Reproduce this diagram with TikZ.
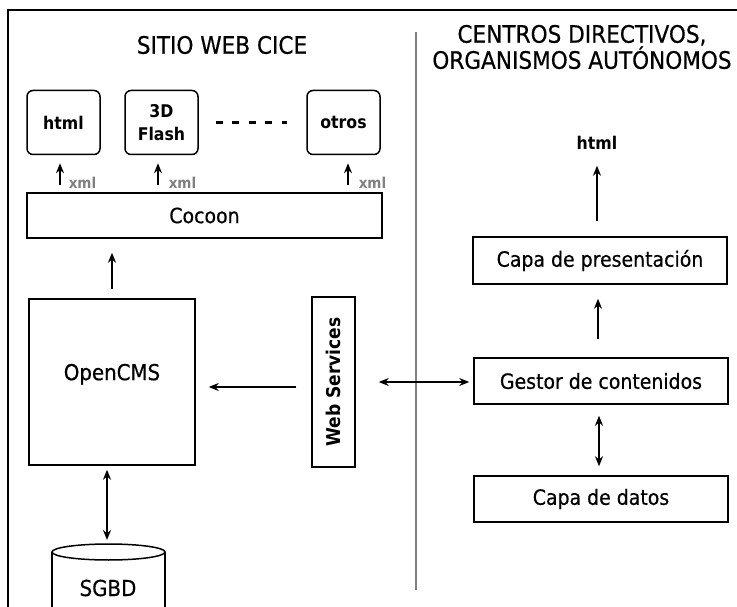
\documentclass[tikz,border=0pt]{standalone}
\usepackage{fontspec}
\setmainfont{DejaVu Sans}[FakeStretch=0.9, UprightFeatures={FakeBold=0.5}]
\usetikzlibrary{arrows.meta,calc}
\begin{document}
\begin{tikzpicture}[x=1pt,y=-1pt, line width=1.5pt,
 box/.style={draw, rectangle, inner sep=0pt, font=\fontsize{21}{25}\selectfont},
 smallbox/.style={draw, rounded corners=6pt, minimum width=73pt, minimum height=64pt, inner sep=0pt, font=\bfseries\fontsize{17.5}{23}\selectfont, align=center},
 arr/.style={-{Stealth[length=10pt,width=8pt]}},
 darr/.style={{Stealth[length=10pt,width=8pt]}-{Stealth[length=10pt,width=8pt]}},
 xmllbl/.style={text=gray, font=\bfseries\fontsize{15}{17}\selectfont, inner sep=0pt, anchor=west},
 title/.style={font=\fontsize{24}{25}\selectfont, align=center}]
\useasboundingbox (0,0) rectangle (737,607);
\fill[white] (0,0) rectangle (737,607);
% frame
\draw[line width=1.8pt] (8,607) -- (8,10) -- (737,10);
% separator
\draw[gray, line width=2.2pt] (416,32) -- (416,590);
% titles
\node[title] (t1) at (222,45) {SITIO WEB CICE};
\node[title] (t2) at (582,47) {CENTROS DIRECTIVOS,\\ORGANISMOS AUTÓNOMOS};
% output boxes
\node[smallbox] (html) at (63.5,122.5) {html};
\node[smallbox] (flash) at (161.5,122.5) {3D\\Flash};
\node[smallbox] (otros) at (343.5,122.5) {otros};
\draw[dash pattern=on 7pt off 9.5pt, line width=2.2pt] ($(flash.east)+(17,0)$) -- ($(otros.west)+(-19,0)$);
% cocoon
\node[box, minimum width=355pt, minimum height=45pt] (cocoon) at (204.5,215.5) {Cocoon};
% xml arrows
\draw[arr] ($(html.south)+(-3.5,30)$) -- ($(html.south)+(-3.5,8)$);
\node[xmllbl] (x1) at ($(html.south)+(4.5,28)$) {xml};
\draw[arr] ($(flash.south)+(-3.5,30)$) -- ($(flash.south)+(-3.5,8)$);
\node[xmllbl] (x2) at ($(flash.south)+(6.5,28)$) {xml};
\draw[arr] ($(otros.south)+(4.5,30)$) -- ($(otros.south)+(4.5,8)$);
\node[xmllbl] (x3) at ($(otros.south)+(14.5,28)$) {xml};
% OpenCMS
\node[box, minimum width=166pt, minimum height=166pt, font=\fontsize{22}{26}\selectfont] (opencms) at (112,382) {\raisebox{20pt}{OpenCMS}};
\draw[arr, shorten <=9pt, shorten >=14pt] (opencms.north) -- (opencms.north |- cocoon.south);
% Web services
\node[draw, rotate=90, minimum width=170pt, minimum height=43pt, inner sep=0pt, font=\bfseries\fontsize{19}{22}\selectfont] (ws) at (333.5,382) {Web Services};
\draw[arr, shorten <=15pt, shorten >=13pt] ($(ws.north)+(0,5)$) -- ($(opencms.east)+(0,5)$);
% right side
\node[font=\bfseries\fontsize{17.5}{20}\selectfont] (htmlr) at (597,143) {html};
\node[box, minimum width=254pt, minimum height=47pt] (pres) at (600,260.5) {Capa de presentación};
\node[box, minimum width=254pt, minimum height=46pt] (gestor) at (601,381) {Gestor de contenidos};
\node[box, minimum width=254pt, minimum height=46pt] (datos) at (601,499) {Capa de datos};
\draw[arr, shorten <=15pt, shorten >=12pt] ($(pres.north)+(-3,0)$) -- (htmlr.south);
\draw[arr, shorten <=18pt, shorten >=14pt] ($(gestor.north)+(-3,0)$) -- ($(pres.south)+(-2,0)$);
\draw[darr, shorten <=11pt, shorten >=9pt] ($(gestor.south)+(-2,0)$) -- ($(datos.north)+(-2,0)$);
\draw[darr, shorten <=23pt, shorten >=4pt] (ws.south) -- (ws.south -| gestor.west);
% SGBD
\coordinate (sgbdtop) at (107,543);
\draw (52,552) -- (52,620);
\draw (165,552) -- (165,620);
\draw (108.5,552) ellipse [x radius=56.5pt, y radius=8pt];
\node[font=\fontsize{22}{26}\selectfont] (sgbd) at (108,588) {SGBD};
\draw[darr, shorten <=4pt, shorten >=3pt] (opencms.south -| sgbdtop) -- (sgbdtop);
\end{tikzpicture}
\end{document}
